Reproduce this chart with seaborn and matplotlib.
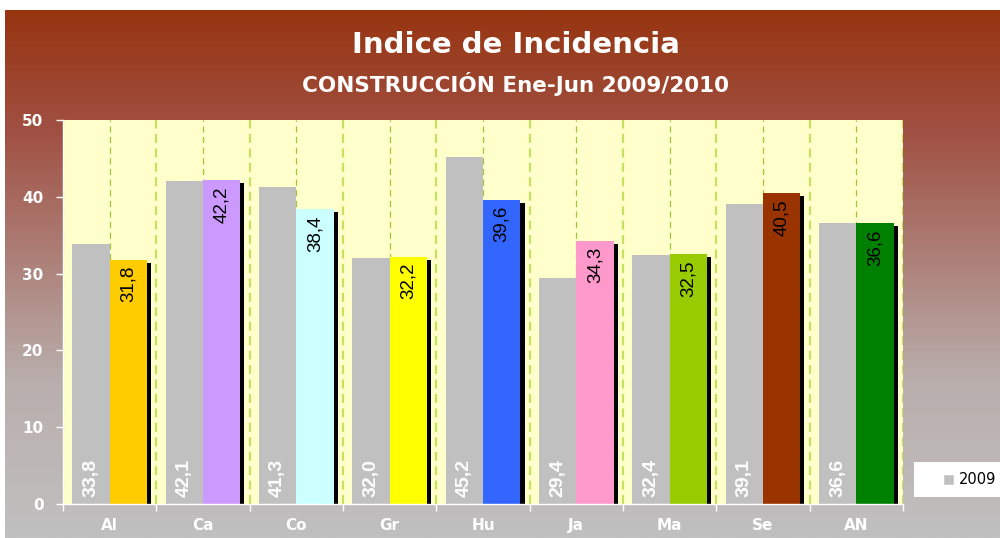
import numpy as np
import pandas as pd
import matplotlib
matplotlib.use('Agg')
import matplotlib.pyplot as plt
import matplotlib.patheffects as pe
from matplotlib.patches import Patch, Rectangle
from matplotlib.colors import to_rgb
import seaborn as sns

# data
regions = ['Al', 'Ca', 'Co', 'Gr', 'Hu', 'Ja', 'Ma', 'Se', 'AN']
v2009 = [33.8, 42.1, 41.3, 32.0, 45.2, 29.4, 32.4, 39.1, 36.6]
v2010 = [31.8, 42.2, 38.4, 32.2, 39.6, 34.3, 32.5, 40.5, 36.6]
colors2010 = ['#FFCC00', '#CC99FF', '#CCFFFF', '#FFFF00', '#3366FF',
              '#FF99CC', '#99CC00', '#993300', '#008000']

df = pd.DataFrame({'region': regions * 2,
                   'year': ['2009'] * len(regions) + ['2010'] * len(regions),
                   'value': v2009 + v2010})

sns.set_theme(style='white')
plt.rcParams['font.family'] = ['DejaVu Sans']

fig = plt.figure(figsize=(10, 5.38), dpi=100)

# gradient background (brown -> grey)
stops = [0.0, 120 / 528, 370 / 528, 1.0]
stop_cols = [to_rgb('#973410'), to_rgb('#A05042'), to_rgb('#B9AEAC'), to_rgb('#C0C0C0')]
t = np.linspace(0, 1, 300)
grad = np.stack([np.interp(t, stops, [c[i] for c in stop_cols]) for i in range(3)], axis=-1)
bg = fig.add_axes([0.005, 0, 0.995, 528 / 538], zorder=-5)
bg.imshow(grad[:, None, :], aspect='auto', extent=[0, 1, 0, 1])
bg.axis('off')

# plot area
ax = fig.add_axes([0.063, 1 - 504 / 538, 0.84, 384 / 538])
ax.set_facecolor('#FFFFCC')
sns.barplot(data=df, x='region', y='value', hue='year',
            palette=['#C0C0C0', '#C0C0C0'], width=0.8, saturation=1,
            legend=False, linewidth=0, edgecolor='none', ax=ax)

shadow = [pe.SimplePatchShadow(offset=(3, -2.2), shadow_rgbFace='black', alpha=1), pe.Normal()]
for bar, c in zip(ax.containers[1], colors2010):
    bar.set_facecolor(c)
    bar.set_path_effects(shadow)

# value labels
for bar, v in zip(ax.containers[0], v2009):
    ax.text(bar.get_x() + bar.get_width() / 2, 0.9, f'{v:.1f}'.replace('.', ','),
            rotation=90, ha='center', va='bottom', color='white',
            fontsize=14, fontweight='bold', family='Liberation Sans')
for bar, v in zip(ax.containers[1], v2010):
    ax.text(bar.get_x() + bar.get_width() / 2, v - 0.8, f'{v:.1f}'.replace('.', ','),
            rotation=90, ha='center', va='top', color='black',
            fontsize=13.5, family='Liberation Sans')

ax.set_xlim(-0.5, len(regions) - 0.5)
ax.set_ylim(0, 50)
ax.set_yticks(range(0, 51, 10))
ax.set_xticks(np.arange(-0.5, len(regions), 1), minor=True)
ax.set_xlabel('')
ax.set_ylabel('')

ax.set_axisbelow(True)
ax.grid(False)
ax.xaxis.grid(True, which='major', color='#A4C43A', linestyle=(0, (5, 3.5)), linewidth=0.9)
ax.xaxis.grid(True, which='minor', color='#C8E060', linestyle=(0, (4, 2.5)), linewidth=1.6)

ax.tick_params(axis='x', which='major', length=0, pad=18.5, labelcolor='white', labelsize=11)
ax.tick_params(axis='x', which='minor', length=5, width=1, color='white', bottom=True)
ax.tick_params(axis='y', length=5, width=1, color='white', labelcolor='white', labelsize=11, pad=9, left=True)
for lab in ax.get_xticklabels():
    lab.set_fontweight('bold')
    lab.set_va('baseline')
for lab in ax.get_yticklabels():
    lab.set_fontweight('bold')

for s in ['top', 'right']:
    ax.spines[s].set_visible(False)
for s in ['left', 'bottom']:
    ax.spines[s].set_color('white')
    ax.spines[s].set_linewidth(1)

# titles
fig.text(0.516, 1 - 45 / 538, 'Indice de Incidencia', ha='center', va='center',
         color='white', fontsize=21, fontweight='bold')
fig.text(0.516, 1 - 84 / 538, 'CONSTRUCCIÓN Ene-Jun 2009/2010', ha='center', va='center',
         color='white', fontsize=15.5, fontweight='bold')

# legend box
fig.patches.append(Rectangle((0.914, 1 - 497 / 538), 0.086, 35 / 538,
                             transform=fig.transFigure, facecolor='white',
                             edgecolor='none', zorder=3))
fig.legend(handles=[Patch(facecolor='#C0C0C0', label='2009')], loc='center left',
           bbox_to_anchor=(0.936, 1 - 480 / 538), frameon=False, fontsize=10.5,
           handlelength=0.75, handleheight=0.75, handletextpad=0.35, borderpad=0,
           labelcolor='black')

fig.savefig('out.png', dpi=100)
